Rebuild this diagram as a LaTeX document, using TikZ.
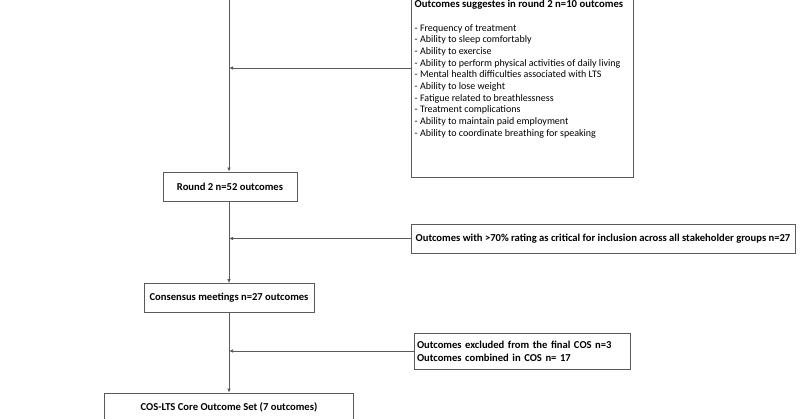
\documentclass[tikz,border=0pt]{standalone}
\usepackage{fontspec}
\setmainfont{Carlito}
\usetikzlibrary{arrows.meta,calc}
\definecolor{linegray}{HTML}{5A5A5A}
\tikzset{
  box/.style={draw=linegray, line width=0.8pt, inner sep=0pt, font=\bfseries\fontsize{10.6}{12.7}\selectfont, align=center},
  conn/.style={draw=linegray, line width=0.8pt},
  arr/.style={conn, -{Latex[length=4pt,width=3.6pt]}},
  item/.style={anchor=base west, inner sep=0pt, font=\fontsize{10}{11}\selectfont}
}
\begin{document}
\begin{tikzpicture}[x=1pt,y=-1pt]
\clip (0,0) rectangle (800,419);
\useasboundingbox (0,0) rectangle (800,419);
% boxes
\node[box, minimum width=222pt, minimum height=190pt, anchor=south west] (sug) at (411,178) {};
\node[anchor=base west, inner sep=0pt, font=\bfseries\fontsize{10.7}{13}\selectfont] (sugt) at (414.5,7.2) {Outcomes suggestes in round 2 n=10 outcomes};
\foreach \t [count=\i] in {Frequency of treatment, Ability to sleep comfortably, Ability to exercise, Ability to perform physical activities of daily living, Mental health difficulties associated with LTS, Ability to lose weight, Fatigue related to breathlessness, Treatment complications, Ability to maintain paid employment, Ability to coordinate breathing for speaking}
  \node[item] (li\i) at (414.5,{31.3+11.67*(\i-1)}) {- \t};
\node[box, minimum width=134pt, minimum height=29pt] (r2) at (230,186.5) {Round 2 n=52 outcomes};
\node[box, minimum width=384pt, minimum height=29pt] (crit) at (603,238.5) {Outcomes with >70\% rating as critical for inclusion across all stakeholder groups n=27};
\node[box, minimum width=170pt, minimum height=29pt] (cons) at (229,298) {Consensus meetings n=27 outcomes};
\node[box, minimum width=216pt, minimum height=36pt, align=left, text width=210pt] (excl) at (522,351) {Outcomes excluded from the final COS n=3\\Outcomes combined in COS n= 17};
\node[box, minimum width=249pt, minimum height=28pt] (cos) at (229,407) {COS-LTS Core Outcome Set (7 outcomes)};
% connectors
\coordinate (top) at (229,-5);
\coordinate (j1) at (229,68);
\draw[arr] (top) -- (r2.north -| top);
\draw[arr] (j1 -| sug.west) -- (j1);
\draw[arr] (r2.south -| top) -- (cons.north -| top);
\draw[arr] (crit.west) -- (crit.west -| top);
\draw[arr] (cons.south -| top) -- (cos.north -| top);
\draw[arr] (excl.west) -- (excl.west -| top);
\end{tikzpicture}
\end{document}
